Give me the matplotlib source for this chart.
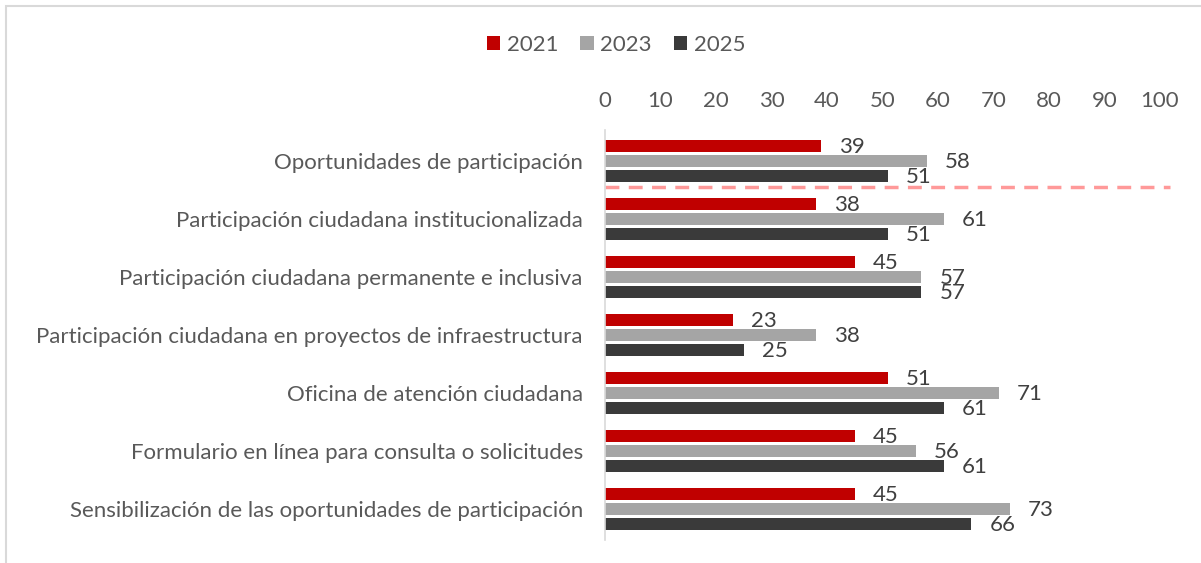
import numpy as np
import matplotlib.pyplot as plt
from matplotlib.patches import Rectangle

# ---------------------------------------------------------------------------
# Datos
# ---------------------------------------------------------------------------
categorias = [
    "Oportunidades de participación",
    "Participación ciudadana institucionalizada",
    "Participación ciudadana permanente e inclusiva",
    "Participación ciudadana en proyectos de infraestructura",
    "Oficina de atención ciudadana",
    "Formulario en línea para consulta o solicitudes",
    "Sensibilización de las oportunidades de participación",
]
anios = ["2021", "2023", "2025"]
v2021 = [39, 38, 45, 23, 51, 45, 45]
v2023 = [58, 61, 57, 38, 71, 56, 73]
v2025 = [51, 51, 57, 25, 61, 61, 66]
xticks = list(range(0, 101, 10))

COLORES = ["#C00000", "#A5A5A5", "#3A3A3A"]
FONT = "Lato"
FS = 16
W, H = 1201, 563

plt.rcParams["font.family"] = [FONT, "DejaVu Sans"]

fig = plt.figure(figsize=(W / 100, H / 100), dpi=100)
ax = fig.add_axes([605 / W, (H - 540) / H, 555 / W, 410 / H])

y = np.arange(len(categorias))
paso = 15 / 58
alto = 12 / 58
for i, (serie, col) in enumerate(zip([v2021, v2023, v2025], COLORES)):
    ypos = y + (i - 1) * paso
    ax.barh(ypos, serie, height=alto, color=col, label=anios[i])
    for yy, v in zip(ypos, serie):
        ax.annotate(str(v), (v, yy), xytext=(13, -1), textcoords="offset points",
                    ha="left", va="center", fontsize=FS, color="#404040")

ax.set_xlim(0, 100)
ax.set_ylim(6.535, -0.535)
ax.set_yticks(y)
ax.set_yticklabels(categorias, fontsize=FS, color="#595959")
ax.xaxis.tick_top()
ax.set_xticks(xticks)
ax.set_xticklabels([str(t) for t in xticks], fontsize=FS, color="#595959")
ax.tick_params(axis="both", length=0)
ax.tick_params(axis="x", pad=14)
ax.tick_params(axis="y", pad=16)
for s in ["top", "right", "bottom"]:
    ax.spines[s].set_visible(False)
ax.spines["left"].set_color("#D9D9D9")
ax.spines["left"].set_linewidth(1.2)

# linea discontinua entre el primer grupo y el resto
ax.plot([0, 101.8], [0.45, 0.45], color="#FF9999", linestyle=(0, (4, 2.7)),
        linewidth=2.5, clip_on=False)

leg = fig.legend(loc="center", bbox_to_anchor=(616 / W, 1 - 45 / H), ncol=3,
                 frameon=False, fontsize=FS, handlelength=0.6, handleheight=0.6,
                 handletextpad=0.3, columnspacing=1.0)
for t in leg.get_texts():
    t.set_color("#595959")

# borde del area del grafico
fig.patches.append(Rectangle((6 / W, -0.1), 1.2, 1 - 6 / H + 0.1,
                             transform=fig.transFigure, fill=False,
                             edgecolor="#D9D9D9", linewidth=1.5))

plt.savefig("out.png", dpi=100)
